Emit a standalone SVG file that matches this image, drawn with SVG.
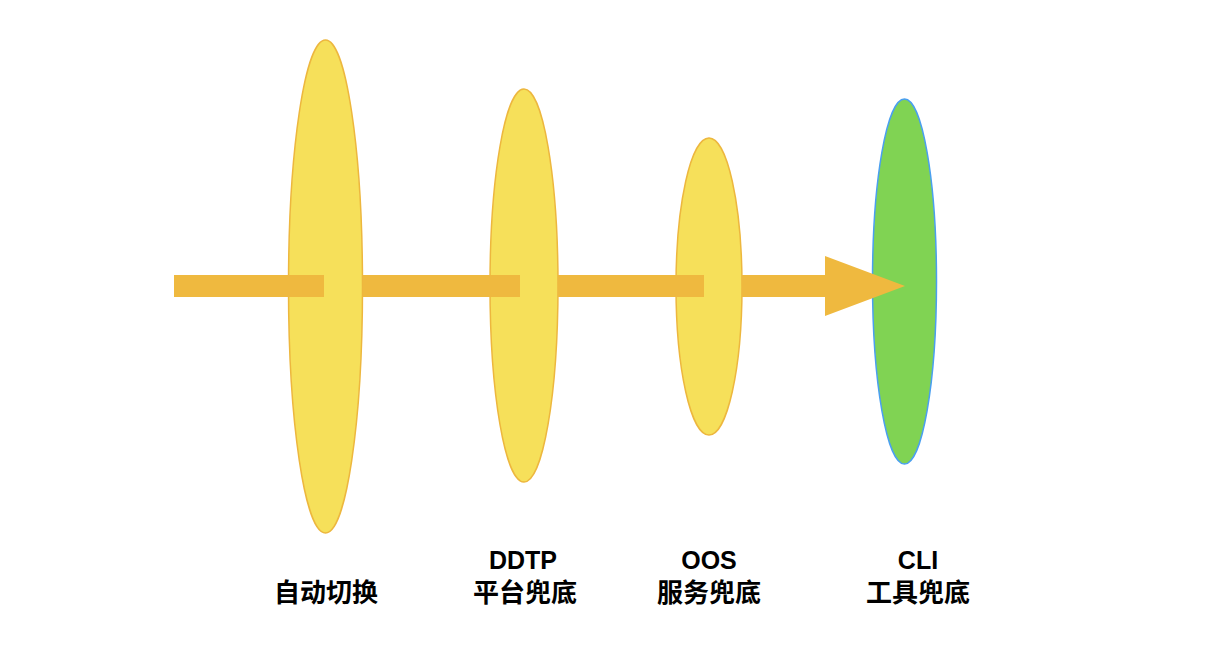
<svg xmlns="http://www.w3.org/2000/svg" width="1230" height="670" viewBox="0 0 1230 670">
<style>
.y{fill:#F6E05A;stroke:#EDB73E;stroke-width:1.5}
.g{fill:#80D353;stroke:#4A9FF0;stroke-width:1.5}
.a{fill:#EFB93F}
.t{font-family:"Liberation Sans","Noto Sans CJK SC",sans-serif;font-weight:bold;font-size:25px;fill:#000;text-anchor:middle}
.c{font-family:"Noto Sans CJK SC",sans-serif;font-weight:bold;font-size:26px;fill:#000;text-anchor:middle}
</style>
<rect width="1230" height="670" fill="#fff"/>
<g id="node-auto">
<ellipse class="y" cx="325.5" cy="286.5" rx="37" ry="246.5"/>
<text class="c" x="326" y="602">自动切换</text>
</g>
<g id="connectors">
<rect class="a" x="174" y="275" width="150" height="22"/>
</g>
<g id="node-ddtp">
<ellipse class="y" cx="524" cy="285.5" rx="34" ry="196.5"/>
<text class="t" x="523" y="569">DDTP</text>
<text class="c" x="525" y="602">平台兜底</text>
</g>
<g id="node-oos">
<ellipse class="y" cx="709" cy="286.5" rx="33" ry="148.5"/>
<text class="t" x="709" y="569">OOS</text>
<text class="c" x="709" y="602">服务兜底</text>
</g>
<g id="node-cli">
<ellipse class="g" cx="904.5" cy="281.5" rx="32" ry="182.5"/>
<text class="t" x="918" y="569">CLI</text>
<text class="c" x="918" y="602">工具兜底</text>
</g>
<g id="connectors-2">
<rect class="a" x="363" y="275" width="157" height="22"/>
<rect class="a" x="558" y="275" width="146" height="22"/>
<path class="a" d="M742 275 H825 V256 L905 286 L825 316 V297 H742 Z"/>
</g>
</svg>
